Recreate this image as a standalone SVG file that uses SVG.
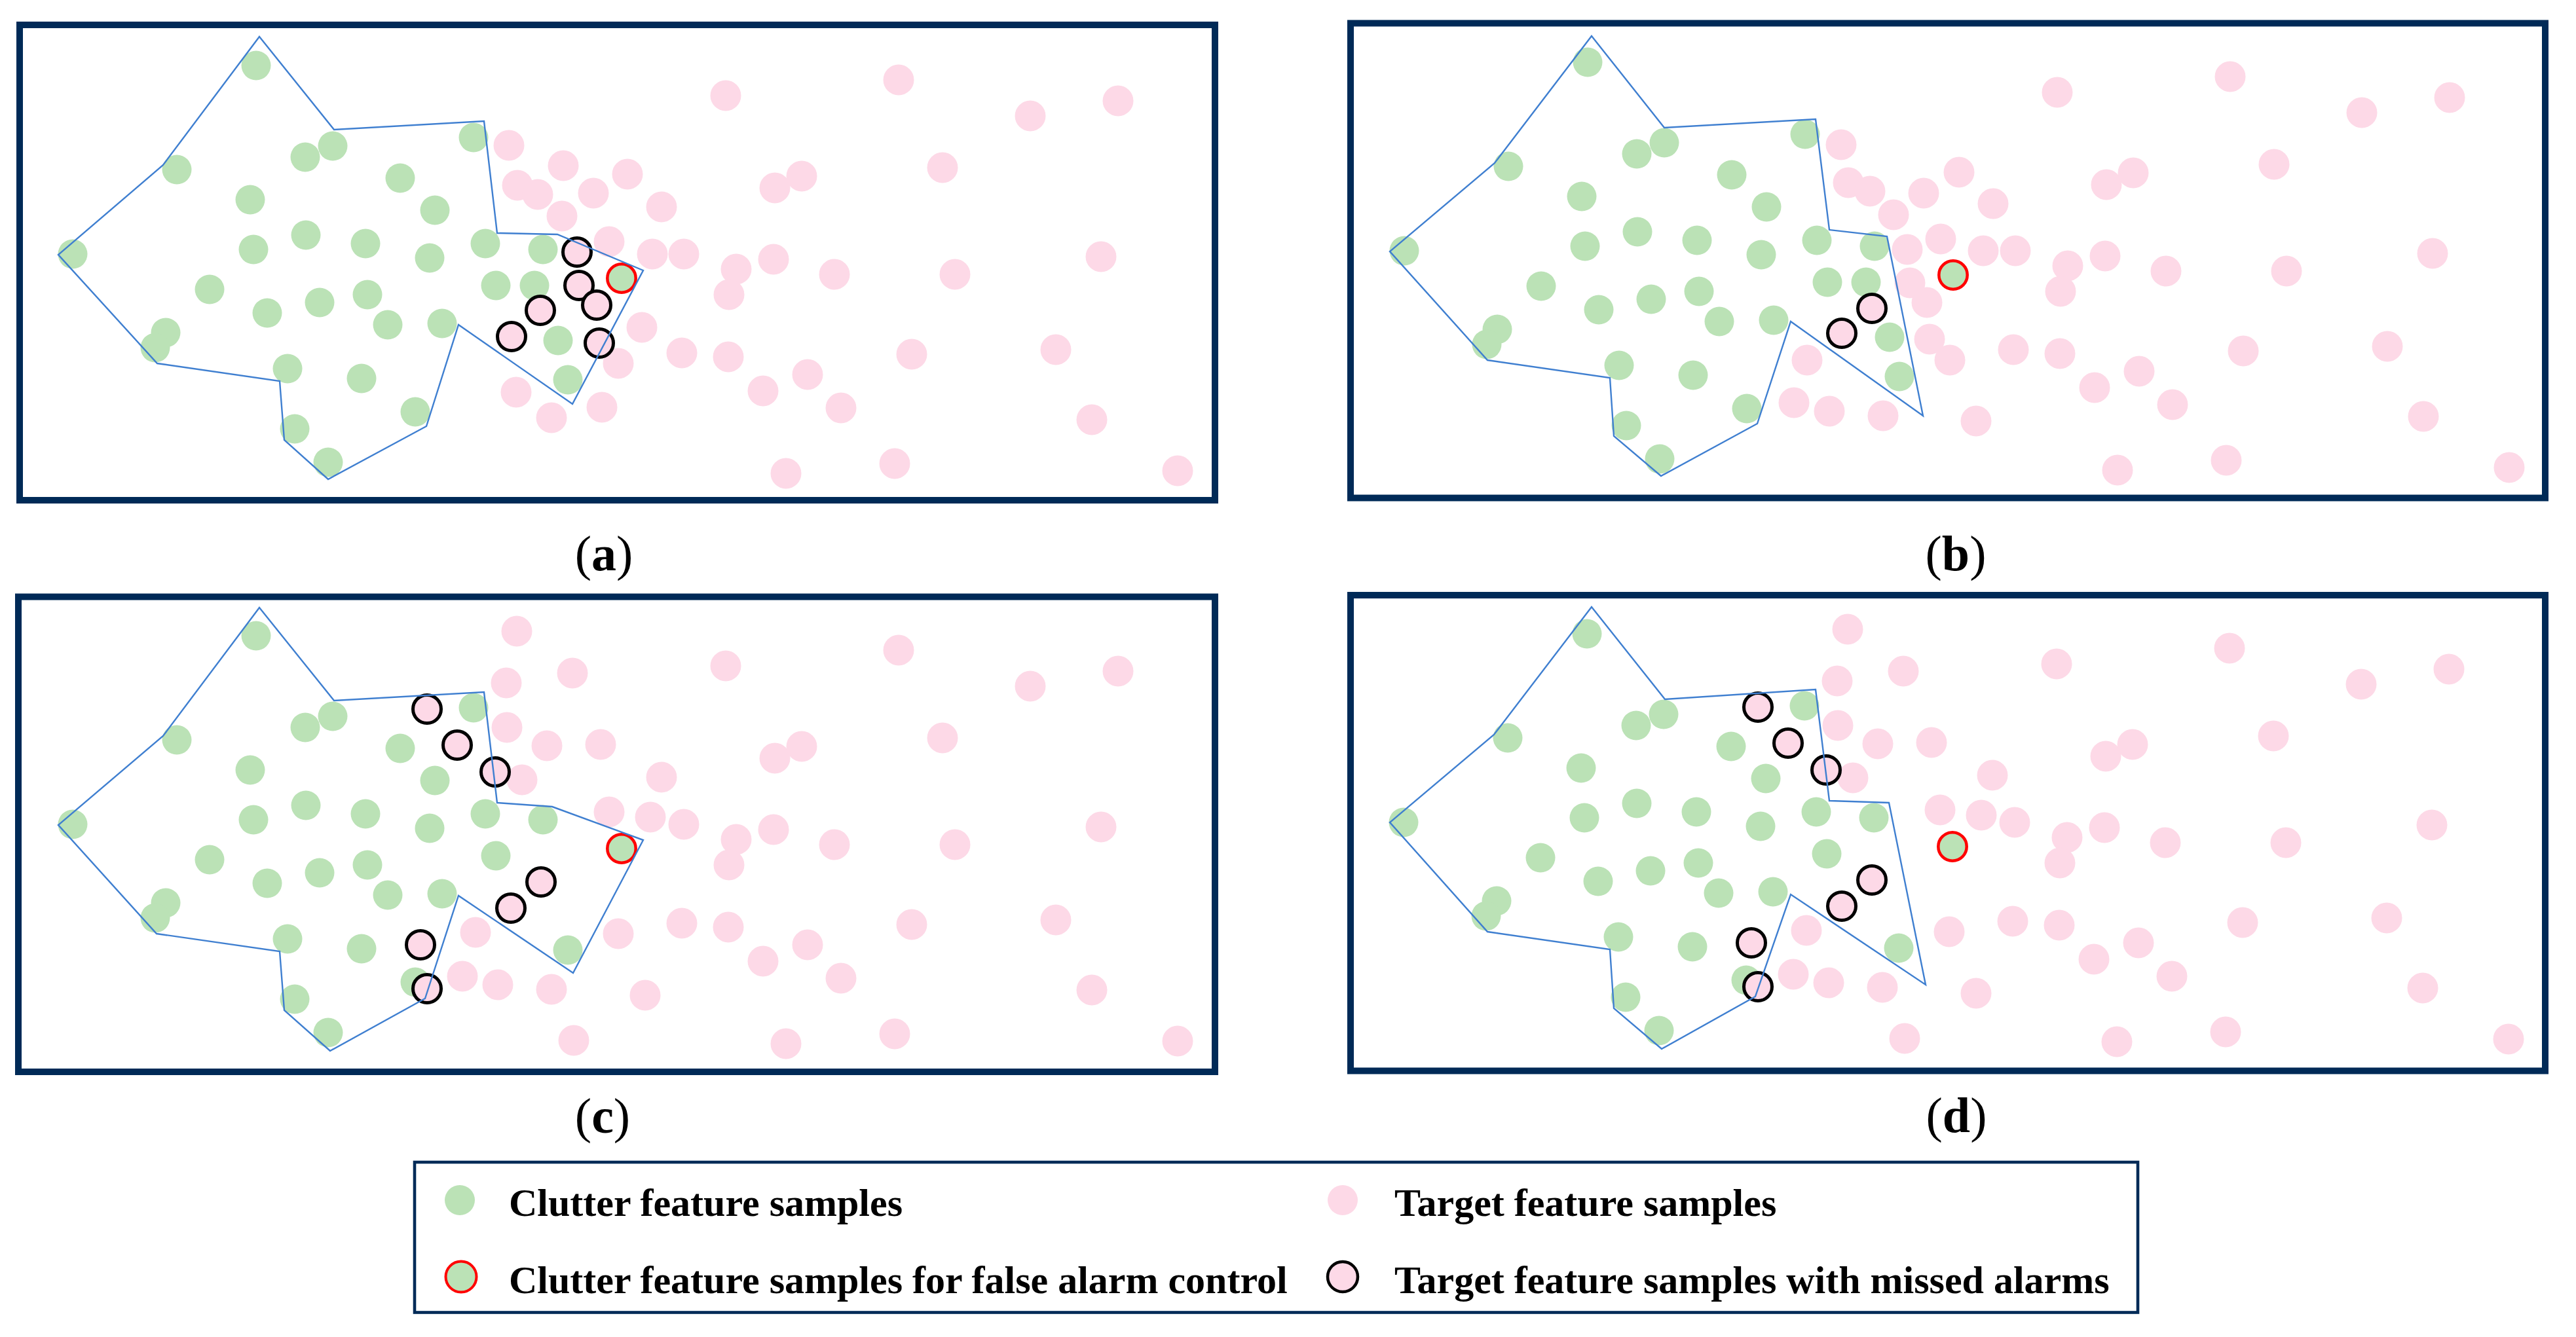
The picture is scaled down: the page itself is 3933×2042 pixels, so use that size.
<svg xmlns="http://www.w3.org/2000/svg" width="3933" height="2042" viewBox="0 0 3933 2042">
<style>
.frame{fill:none;stroke:#002A57;stroke-width:10}
.lg{fill:none;stroke:#002A57;stroke-width:4.6}
.g{fill:#BBE2B6}
.p{fill:#FDD9E7}
.m{fill:#FDD9E7;stroke:#000;stroke-width:5}
.r{fill:#BBE2B6;stroke:#FF0000;stroke-width:4.5}
.poly{fill:none;stroke:#3F7FD0;stroke-width:2.4;stroke-linejoin:miter}
.lbl{font-family:"Liberation Serif","Times New Roman",serif;font-size:76px;fill:#000;text-anchor:middle}
.lbl tspan.b{font-weight:bold}
.leg{font-family:"Liberation Serif","Times New Roman",serif;font-size:60px;font-weight:bold;fill:#000}
</style>
<defs>
<g id="greensCore">
<circle class="g" cx="391" cy="100" r="22.5"/><circle class="g" cx="270" cy="259" r="22.5"/><circle class="g" cx="466" cy="240" r="22.5"/><circle class="g" cx="508" cy="223" r="22.5"/><circle class="g" cx="723" cy="210" r="22.5"/><circle class="g" cx="611" cy="272" r="22.5"/><circle class="g" cx="382" cy="305" r="22.5"/><circle class="g" cx="664" cy="321" r="22.5"/><circle class="g" cx="111" cy="388" r="22.5"/><circle class="g" cx="387" cy="381" r="22.5"/><circle class="g" cx="467" cy="359" r="22.5"/><circle class="g" cx="558" cy="372" r="22.5"/><circle class="g" cx="656" cy="394" r="22.5"/><circle class="g" cx="741" cy="372" r="22.5"/><circle class="g" cx="829" cy="381" r="22.5"/><circle class="g" cx="320" cy="442" r="22.5"/><circle class="g" cx="408" cy="478" r="22.5"/><circle class="g" cx="488" cy="462" r="22.5"/><circle class="g" cx="561" cy="450" r="22.5"/><circle class="g" cx="592" cy="496" r="22.5"/><circle class="g" cx="675" cy="494" r="22.5"/><circle class="g" cx="757" cy="436" r="22.5"/><circle class="g" cx="867" cy="580" r="22.5"/><circle class="g" cx="253" cy="508" r="22.5"/><circle class="g" cx="237" cy="531" r="22.5"/><circle class="g" cx="439" cy="563" r="22.5"/><circle class="g" cx="552" cy="578" r="22.5"/><circle class="g" cx="634" cy="629" r="22.5"/><circle class="g" cx="450" cy="655" r="22.5"/><circle class="g" cx="501" cy="706" r="22.5"/>
</g>
<g id="greensExtra">
<circle class="g" cx="816" cy="436" r="22.5"/><circle class="g" cx="852" cy="520" r="22.5"/>
</g>
<g id="pinkCommon">
<circle class="p" cx="1108" cy="146" r="23.5"/><circle class="p" cx="1372" cy="122" r="23.5"/><circle class="p" cx="1573" cy="177" r="23.5"/><circle class="p" cx="1707" cy="154" r="23.5"/><circle class="p" cx="1010" cy="316" r="23.5"/><circle class="p" cx="1183" cy="287" r="23.5"/><circle class="p" cx="1224" cy="269" r="23.5"/><circle class="p" cx="1439" cy="256" r="23.5"/><circle class="p" cx="1044" cy="388" r="23.5"/><circle class="p" cx="1124" cy="411" r="23.5"/><circle class="p" cx="1113" cy="450" r="23.5"/><circle class="p" cx="1181" cy="396" r="23.5"/><circle class="p" cx="1274" cy="419" r="23.5"/><circle class="p" cx="1458" cy="419" r="23.5"/><circle class="p" cx="1681" cy="392" r="23.5"/><circle class="p" cx="1041" cy="539" r="23.5"/><circle class="p" cx="1112" cy="545" r="23.5"/><circle class="p" cx="1165" cy="597" r="23.5"/><circle class="p" cx="1233" cy="572" r="23.5"/><circle class="p" cx="1284" cy="623" r="23.5"/><circle class="p" cx="1392" cy="541" r="23.5"/><circle class="p" cx="1612" cy="534" r="23.5"/><circle class="p" cx="1667" cy="641" r="23.5"/><circle class="p" cx="1200" cy="723" r="23.5"/><circle class="p" cx="1366" cy="708" r="23.5"/><circle class="p" cx="1798" cy="719" r="23.5"/><circle class="p" cx="944" cy="555" r="23.5"/>
</g>
<g id="pinkCD">
<circle class="p" cx="789" cy="93" r="23.5"/><circle class="p" cx="874" cy="157" r="23.5"/><circle class="p" cx="773" cy="172" r="23.5"/><circle class="p" cx="774" cy="240" r="23.5"/><circle class="p" cx="835" cy="268" r="23.5"/><circle class="p" cx="917" cy="266" r="23.5"/><circle class="p" cx="797" cy="320" r="23.5"/><circle class="p" cx="930" cy="369" r="23.5"/><circle class="p" cx="993" cy="377" r="23.5"/><circle class="p" cx="726" cy="553" r="23.5"/><circle class="p" cx="706" cy="620" r="23.5"/><circle class="p" cx="760" cy="633" r="23.5"/><circle class="p" cx="842" cy="640" r="23.5"/><circle class="p" cx="985" cy="649" r="23.5"/><circle class="p" cx="876" cy="718" r="23.5"/>
</g>
<g id="missedCD">
<circle class="m" cx="652" cy="212" r="21.5"/><circle class="m" cx="698" cy="267" r="21.5"/><circle class="m" cx="756" cy="308" r="21.5"/><circle class="m" cx="826" cy="476" r="21.5"/><circle class="m" cx="780" cy="516" r="21.5"/><circle class="m" cx="642" cy="572" r="21.5"/><circle class="m" cx="652" cy="639" r="21.5"/>
</g>
<circle id="redg" class="r" cx="949" cy="425" r="21.7"/>
</defs>

<g id="frames">
<rect class="frame" x="30" y="38" width="1825" height="726"/>
<rect class="frame" x="2062" y="35.5" width="1824" height="725"/>
<rect class="frame" x="28" y="911.5" width="1827" height="725.5"/>
<rect class="frame" x="2062" y="909" width="1824" height="726.5"/>
</g>

<g id="panel-a">
<use href="#greensCore"/><use href="#greensExtra"/>
<use href="#pinkCommon"/>
<circle class="p" cx="777" cy="222" r="23.5"/><circle class="p" cx="860" cy="253" r="23.5"/><circle class="p" cx="790" cy="283" r="23.5"/><circle class="p" cx="821" cy="297" r="23.5"/><circle class="p" cx="906" cy="295" r="23.5"/><circle class="p" cx="958" cy="266" r="23.5"/><circle class="p" cx="858" cy="330" r="23.5"/><circle class="p" cx="930" cy="369" r="23.5"/><circle class="p" cx="996" cy="388" r="23.5"/><circle class="p" cx="980" cy="500" r="23.5"/><circle class="p" cx="788" cy="599" r="23.5"/><circle class="p" cx="842" cy="638" r="23.5"/><circle class="p" cx="919" cy="622" r="23.5"/>
<circle class="m" cx="881" cy="385" r="21.5"/><circle class="m" cx="884" cy="436" r="21.5"/><circle class="m" cx="911" cy="466" r="21.5"/><circle class="m" cx="825" cy="474" r="21.5"/><circle class="m" cx="781" cy="514" r="21.5"/><circle class="m" cx="915" cy="524" r="21.5"/>
<use href="#redg"/>
<polygon class="poly" points="396,56 510,198 739,185 759,356 851,358 982,413 874,617 700,496 651,651 501,732 434,672 427,582 240,555 89,389 249,252"/>
<text class="lbl" x="922" y="871">(<tspan class="b">a</tspan>)</text>
</g>

<g id="panel-b" transform="translate(2033,-5)">
<use href="#greensCore"/><use href="#greensExtra"/>
<use href="#pinkCommon"/>
<circle class="p" cx="778" cy="226" r="23.5"/><circle class="p" cx="789" cy="284" r="23.5"/><circle class="p" cx="822" cy="297" r="23.5"/><circle class="p" cx="858" cy="333" r="23.5"/><circle class="p" cx="904" cy="300" r="23.5"/><circle class="p" cx="958" cy="268" r="23.5"/><circle class="p" cx="930" cy="370" r="23.5"/><circle class="p" cx="995" cy="388" r="23.5"/><circle class="p" cx="879" cy="386" r="23.5"/><circle class="p" cx="883" cy="437" r="23.5"/><circle class="p" cx="909" cy="467" r="23.5"/><circle class="p" cx="913" cy="523" r="23.5"/><circle class="p" cx="726" cy="555" r="23.5"/><circle class="p" cx="706" cy="620" r="23.5"/><circle class="p" cx="760" cy="633" r="23.5"/><circle class="p" cx="842" cy="640" r="23.5"/><circle class="p" cx="984" cy="648" r="23.5"/>
<circle class="m" cx="825" cy="476" r="21.5"/><circle class="m" cx="779" cy="514" r="21.5"/>
<use href="#redg"/>
<polygon class="poly" points="397,60 508,200 739,187 760,356 848,366 903,640 701,496 650,652 503,732 431,671 425,582 238,555 89,389 249,254"/>
<text class="lbl" x="953" y="876">(<tspan class="b">b</tspan>)</text>
</g>

<g id="panel-c" transform="translate(0,871)">
<use href="#greensCore"/>
<use href="#pinkCommon"/>
<use href="#pinkCD"/>
<use href="#missedCD"/>
<use href="#redg"/>
<polygon class="poly" points="396,57 510,199 739,186 759,355 843,361 982,412 875,615 700,497 649,654 504,734 434,672 427,582 239,555 89,389 249,253"/>
<text class="lbl" x="920" y="859">(<tspan class="b">c</tspan>)</text>
</g>

<g id="panel-d" transform="translate(2032,868)">
<use href="#greensCore"/>
<use href="#pinkCommon"/>
<use href="#pinkCD"/>
<use href="#missedCD"/>
<use href="#redg"/>
<polygon class="poly" points="398,59 510,200 740,185 761,355 852,358 908,636 702,498 648,654 505,734 432,672 426,582 239,555 90,388 249,254"/>
<text class="lbl" x="955" y="861">(<tspan class="b">d</tspan>)</text>
</g>

<g id="legend">
<rect class="lg" x="633" y="1775" width="2631" height="229.5"/>
<circle class="g" cx="702" cy="1833" r="23"/>
<text class="leg" x="777" y="1857">Clutter feature samples</text>
<circle class="r" cx="704" cy="1950" r="23.5" style="stroke-width:4"/>
<text class="leg" x="777" y="1975">Clutter feature samples for false alarm control</text>
<circle class="p" cx="2050" cy="1833" r="23"/>
<text class="leg" x="2129" y="1857">Target feature samples</text>
<circle class="m" cx="2050" cy="1950" r="23" style="stroke-width:4.5"/>
<text class="leg" x="2129" y="1975">Target feature samples with missed alarms</text>
</g>
</svg>
